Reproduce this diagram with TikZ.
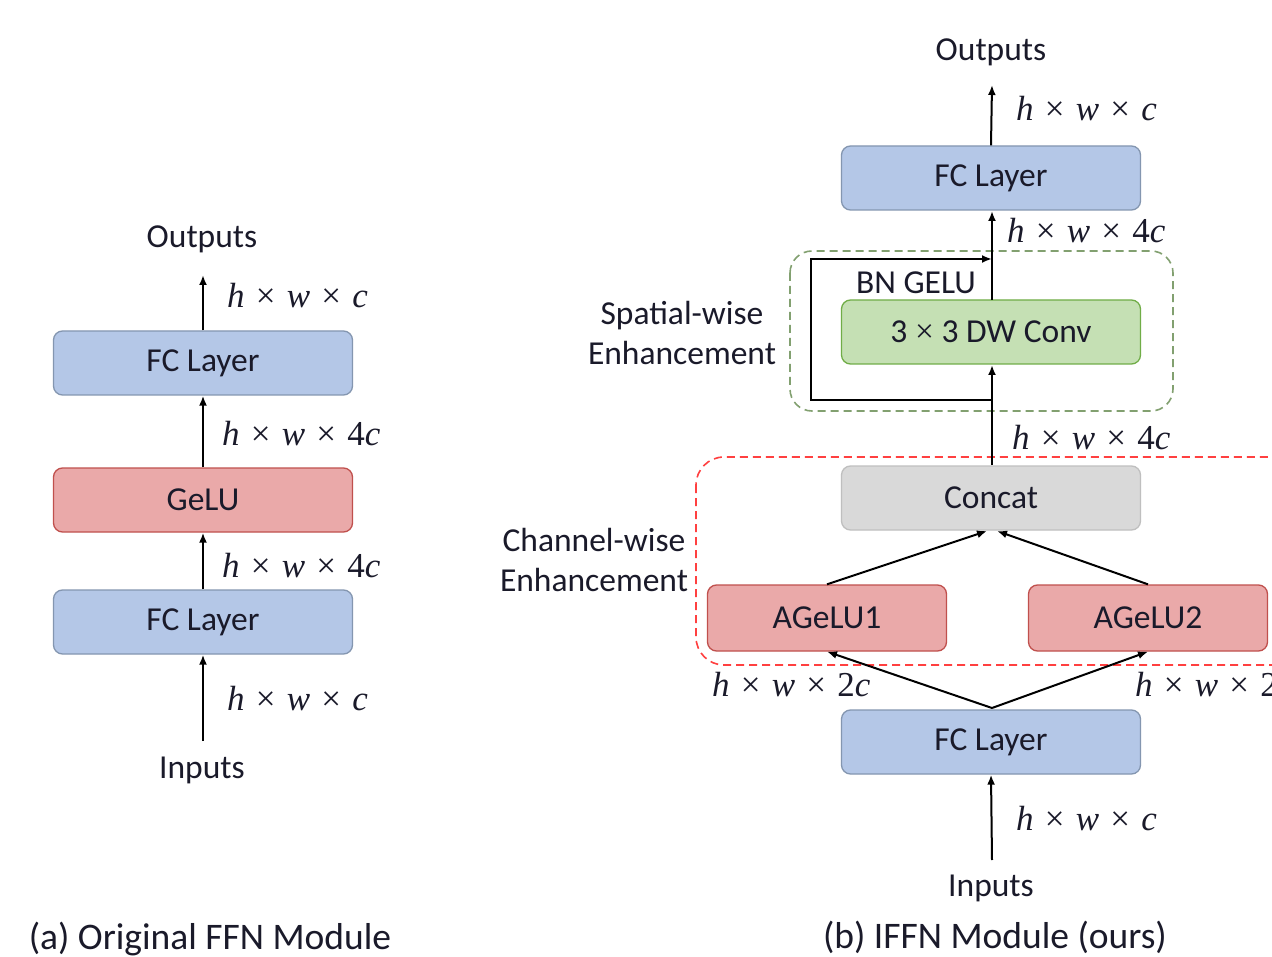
\documentclass[tikz,border=0pt]{standalone}
\usepackage{fontspec}
\setmainfont{Carlito}
\newfontfamily\dimfont{Liberation Serif}
\newcommand{\dsp}{\hspace{0.32em}}
\newcommand{\hw}[1]{{\dimfont\itshape h\/}\dsp{\dimfont ×}\dsp{\dimfont\itshape w\/}\dsp{\dimfont ×}\dsp{\dimfont #1}}
\usetikzlibrary{arrows.meta}
\definecolor{bluef}{HTML}{B4C7E7}
\definecolor{bluel}{HTML}{8496B0}
\definecolor{redf}{HTML}{EAA9A9}
\definecolor{redl}{HTML}{C0504D}
\definecolor{greenf}{HTML}{C5E0B4}
\definecolor{greenl}{HTML}{70AD47}
\definecolor{grayf}{HTML}{D9D9D9}
\definecolor{grayl}{HTML}{BFBFBF}
\definecolor{gdash}{HTML}{82A070}
\definecolor{rdash}{HTML}{FF4040}
\definecolor{ink}{HTML}{1A1A2A}
\begin{document}
\begin{tikzpicture}[x=1pt,y=-1pt,
  blk/.style={draw, line width=1.3pt, rounded corners=9pt, minimum width=299pt, minimum height=64pt, inner sep=0pt, font=\fontsize{33.5}{38}\selectfont, text=ink},
  fcblk/.style={blk, fill=bluef, draw=bluel},
  redblk/.style={blk, fill=redf, draw=redl},
  agblk/.style={blk, fill=redf, draw=redl, minimum width=239pt, minimum height=66pt},
  grnblk/.style={blk, fill=greenf, draw=greenl},
  grayblk/.style={blk, fill=grayf, draw=grayl},
  txt/.style={font=\fontsize{33.5}{40}\selectfont, inner sep=0pt, align=center, text=ink},
  captxt/.style={font=\fontsize{37.5}{42}\selectfont, inner sep=0pt, text=ink},
  dim/.style={font=\fontsize{35}{38}\selectfont, inner sep=0pt, anchor=west, text=ink},
  arr/.style={-{Latex[length=10pt,width=8pt]}, line width=2pt}
]
\clip (0,0) rectangle (1272,957);
\useasboundingbox (0,0) rectangle (1272,957);
\fill[white] (0,0) rectangle (1272,957);

% ---------- left (a) ----------
\node[txt] (aout) at (202,239) {Outputs};
\node[fcblk] (afc2) at (203,363) {FC Layer};
\node[redblk] (agelu) at (203,500) {GeLU};
\node[fcblk] (afc1) at (203,622) {FC Layer};
\node[txt] (ain) at (202,770) {Inputs};
\coordinate (atop) at (203,275);
\coordinate (abot) at (203,741);
\draw[arr] (afc2.north) -- (atop);
\draw[arr] (agelu.north) -- (afc2.south);
\draw[arr] (afc1.north) -- (agelu.south);
\draw[arr] (abot) -- (afc1.south);
\node[dim] (ad1) at (227,296) {\hw{\itshape c}};
\node[dim] (ad2) at (222,434) {\hw{4\itshape c}};
\node[dim] (ad3) at (222,566) {\hw{4\itshape c}};
\node[dim] (ad4) at (227,699) {\hw{\itshape c}};
\node[captxt] (acap) at (210,939) {(a) Original FFN Module};

% ---------- right (b) ----------
\draw[gdash, dash pattern=on 8pt off 5pt, line width=1.6pt, rounded corners=22pt] (790,251) rectangle (1173,411);
\draw[rdash, dash pattern=on 8pt off 5pt, line width=1.6pt, rounded corners=28pt] (696,457) rectangle (1300,665);

\node[txt] (bout) at (991,52) {Outputs};
\node[fcblk] (bfc2) at (991,178) {FC Layer};
\node[grnblk] (dw) at (991,332) {3 {\dimfont ×} 3 DW Conv};
\node[grayblk] (cat) at (991,498) {Concat};
\node[agblk] (ag1) at (827,618) {AGeLU1};
\node[agblk] (ag2) at (1148,618) {AGeLU2};
\node[fcblk] (bfc1) at (991,742) {FC Layer};
\node[txt] (bin) at (991,888) {Inputs};

\node[txt] (bngelu) at (916,283) {BN GELU};
\node[txt] (spat) at (682,333) {Spatial-wise\\Enhancement};
\node[txt] (chan) at (594,560) {Channel-wise\\Enhancement};

\coordinate (btop) at (992,85);
\coordinate (bbot) at (992,860);
\coordinate (skipA) at (992,400);
\coordinate (skipB) at (811,400);
\coordinate (skipC) at (811,259);
\coordinate (skipD) at (992,259);
\coordinate (catL) at (987,531);
\coordinate (catR) at (997,531);
\coordinate (fcT) at (992,708);

\draw[arr] (bfc2.north) -- (btop);
\draw[arr] (992,300) -- (992,211);
\draw[arr] (992,465) -- (992,365);
\draw[arr] (skipA) -- (skipB) -- (skipC) -- (skipD);
\draw[arr] (ag1.north) -- (catL);
\draw[arr] (ag2.north) -- (catR);
\draw[arr] (fcT) -- (ag1.south);
\draw[arr] (fcT) -- (ag2.south);
\draw[arr] (bbot) -- (bfc1.south);

\node[dim] (bd1) at (1016,109) {\hw{\itshape c}};
\node[dim] (bd2) at (1007,231) {\hw{4\itshape c}};
\node[dim] (bd3) at (1012,438) {\hw{4\itshape c}};
\node[dim] (bd4) at (712,685) {\hw{2\itshape c}};
\node[dim] (bd5) at (1135,685) {\hw{2\itshape c}};
\node[dim] (bd6) at (1016,819) {\hw{\itshape c}};
\node[captxt] (bcap) at (995,937) {(b) IFFN Module (ours)};
\end{tikzpicture}
\end{document}
